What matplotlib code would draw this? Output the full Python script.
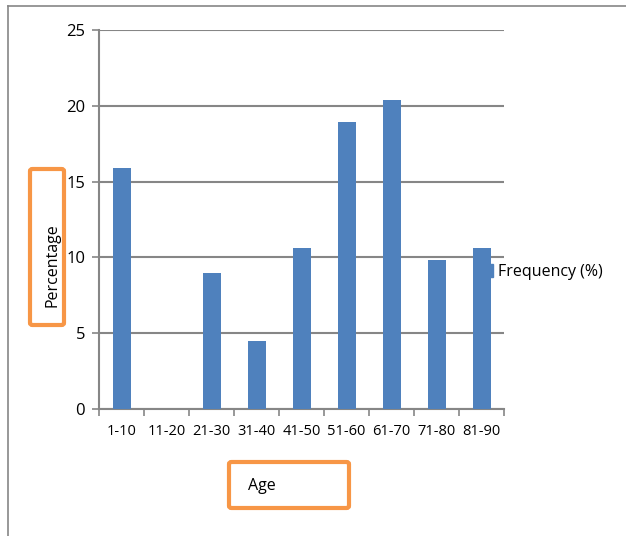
import matplotlib.pyplot as plt
from matplotlib.patches import FancyBboxPatch, Patch
from matplotlib.lines import Line2D

age_groups = ['1-10', '11-20', '21-30', '31-40', '41-50', '51-60', '61-70', '71-80', '81-90']
frequency = [15.9, 0, 9.0, 4.5, 10.6, 18.9, 20.4, 9.8, 10.6]
y_ticks = [0, 5, 10, 15, 20, 25]

W, H = 626, 536
bar_color = '#4F81BD'
grid_color = '#868686'
orange = '#F79646'

plt.rcParams['font.family'] = ['Open Sans', 'DejaVu Sans']

fig = plt.figure(figsize=(W / 100, H / 100), dpi=100)
ax = fig.add_axes([99 / W, 1 - 409 / H, (504 - 99) / W, (409 - 30) / H])

x = list(range(len(age_groups)))
ax.bar(x, frequency, width=0.4, color=bar_color, zorder=3, label='Frequency (%)')

ax.set_xlim(-0.5, len(age_groups) - 0.5)
ax.set_ylim(0, 25)
ax.set_yticks(y_ticks)
ax.yaxis.grid(True, color=grid_color, linewidth=1.5, zorder=0)
ax.set_axisbelow(True)

ax.set_xticks(x)
ax.set_xticklabels(age_groups, fontsize=10.5)
ax.set_xticks([i - 0.5 for i in range(len(age_groups) + 1)], minor=True)
ax.tick_params(axis='x', which='major', length=0, pad=11)
ax.tick_params(axis='x', which='minor', length=5, width=1.2, color=grid_color, direction='out')
ax.tick_params(axis='y', length=5, width=1.2, color=grid_color, labelsize=12, pad=5)

for side in ['top', 'right']:
    ax.spines[side].set_visible(False)
for side in ['left', 'bottom']:
    ax.spines[side].set_color(grid_color)
    ax.spines[side].set_linewidth(1.5)

# legend sits behind the last bar, as in the original layout
leg = ax.legend(handles=[Patch(color=bar_color, label='Frequency (%)')],
                loc='center left', bbox_to_anchor=((482 - 99) / 405, (409 - 272) / 379),
                frameon=False, fontsize=11.5, handlelength=0.7, handleheight=0.9,
                handletextpad=0.3, borderaxespad=0, borderpad=0)
leg.set_zorder(1)

# outer chart frame (left and top edges only)
fig.add_artist(Line2D([8 / W, 8 / W], [0, 1 - 6 / H], color=grid_color, linewidth=1.2))
fig.add_artist(Line2D([8 / W, 1], [1 - 6 / H, 1 - 6 / H], color=grid_color, linewidth=1.2))

# highlighted axis titles
def title_box(x0, y0, x1, y1):
    box = FancyBboxPatch((x0 / W, 1 - y1 / H), (x1 - x0) / W, (y1 - y0) / H,
                         boxstyle='round,pad=0,rounding_size=0.004',
                         transform=fig.transFigure, fill=False,
                         edgecolor=orange, linewidth=3)
    fig.add_artist(box)

title_box(30, 169, 64, 325)
fig.text(52 / W, 1 - 265 / H, 'Percentage', rotation=90, ha='center', va='center', fontsize=11.5)

title_box(229, 462, 349, 508)
fig.text(248 / W, 1 - 486 / H, 'Age', ha='left', va='center', fontsize=11.5)

fig.savefig('out.png', dpi=100)
